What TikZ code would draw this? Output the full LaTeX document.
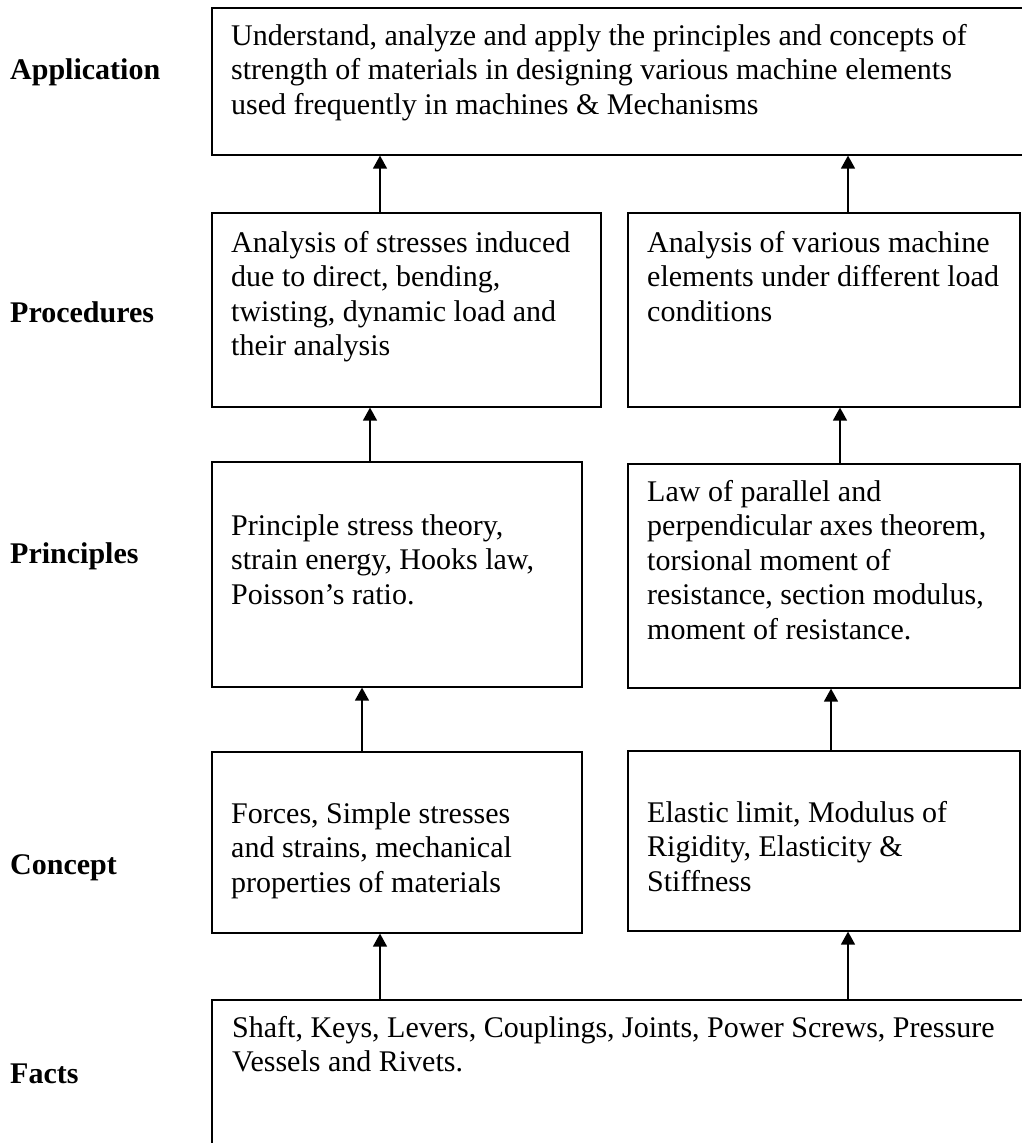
\documentclass[tikz,border=0pt]{standalone}
\usepackage{fontspec}
\setmainfont{Liberation Serif}
\usepackage{tikz}
\usetikzlibrary{arrows.meta}

\begin{document}
\begin{tikzpicture}[
  x=1pt, y=-1pt,
  box/.style={draw, line width=1.6pt, anchor=north west, inner sep=0pt},
  txt/.style={anchor=base west, inner sep=0pt, align=left,
    font=\fontsize{30}{34.5}\selectfont},
  lab/.style={txt, font=\fontsize{30}{34.5}\selectfont\bfseries},
  up/.style={line width=1.4pt, -{Triangle[width=14pt,length=13pt]}}
]
\useasboundingbox (0,0) rectangle (1021,1143);
% level names
\foreach \y/\t in {79/Application, 322/Procedures, 563/Principles, 874/Concept, 1083/Facts}
  \node[lab] (\t) at (10,\y) {\t};
% boxes
\node[box, minimum width=830, minimum height=147] (app) at (211,7) {};
\node[box, minimum width=389, minimum height=194] (procL) at (211,212) {};
\node[box, minimum width=392, minimum height=194] (procR) at (627,212) {};
\node[box, minimum width=370, minimum height=225] (prinL) at (211,461) {};
\node[box, minimum width=392, minimum height=224] (prinR) at (627,463) {};
\node[box, minimum width=370, minimum height=181] (concL) at (211,751) {};
\node[box, minimum width=392, minimum height=180] (concR) at (627,750) {};
\node[box, minimum width=830, minimum height=160] (facts) at (211,999) {};
% texts (placed by the baseline of their last line)
\node[txt] (appText) at (231,114) {Understand, analyze and apply the principles and concepts of\\
  strength of materials in designing various machine elements\\
  used frequently in machines \& Mechanisms};
\node[txt] (procLText) at (231,355.5) {Analysis of stresses induced\\ due to direct, bending,\\
  twisting, dynamic load and\\ their analysis};
\node[txt] (procRText) at (647,321) {Analysis of various machine\\ elements under different load\\ conditions};
\node[txt] (prinLText) at (231,604) {Principle stress theory,\\ strain energy, Hooks law,\\ Poisson’s ratio.};
\node[txt] (prinRText) at (647,639) {Law of parallel and\\ perpendicular axes theorem,\\ torsional moment of\\
  resistance, section modulus,\\ moment of resistance.};
\node[txt] (concLText) at (231,892) {Forces, Simple stresses\\ and strains, mechanical\\ properties of materials};
\node[txt] (concRText) at (647,891) {Elastic limit, Modulus of\\ Rigidity, Elasticity \&\\ Stiffness};
\node[txt] (factsText) at (232,1071.5) {Shaft, Keys, Levers, Couplings, Joints, Power Screws, Pressure\\ Vessels and Rivets.};
% arrows
\foreach \x/\lo/\hi in {380/facts/concL, 848/facts/concR, 362/concL/prinL, 831/concR/prinR,
    370/prinL/procL, 840/prinR/procR, 380/procL/app, 848/procR/app} {
  \coordinate (ax) at (\x,0);
  \draw[up] (\lo.north -| ax) -- (\hi.south -| ax);
}
\end{tikzpicture}
\end{document}
